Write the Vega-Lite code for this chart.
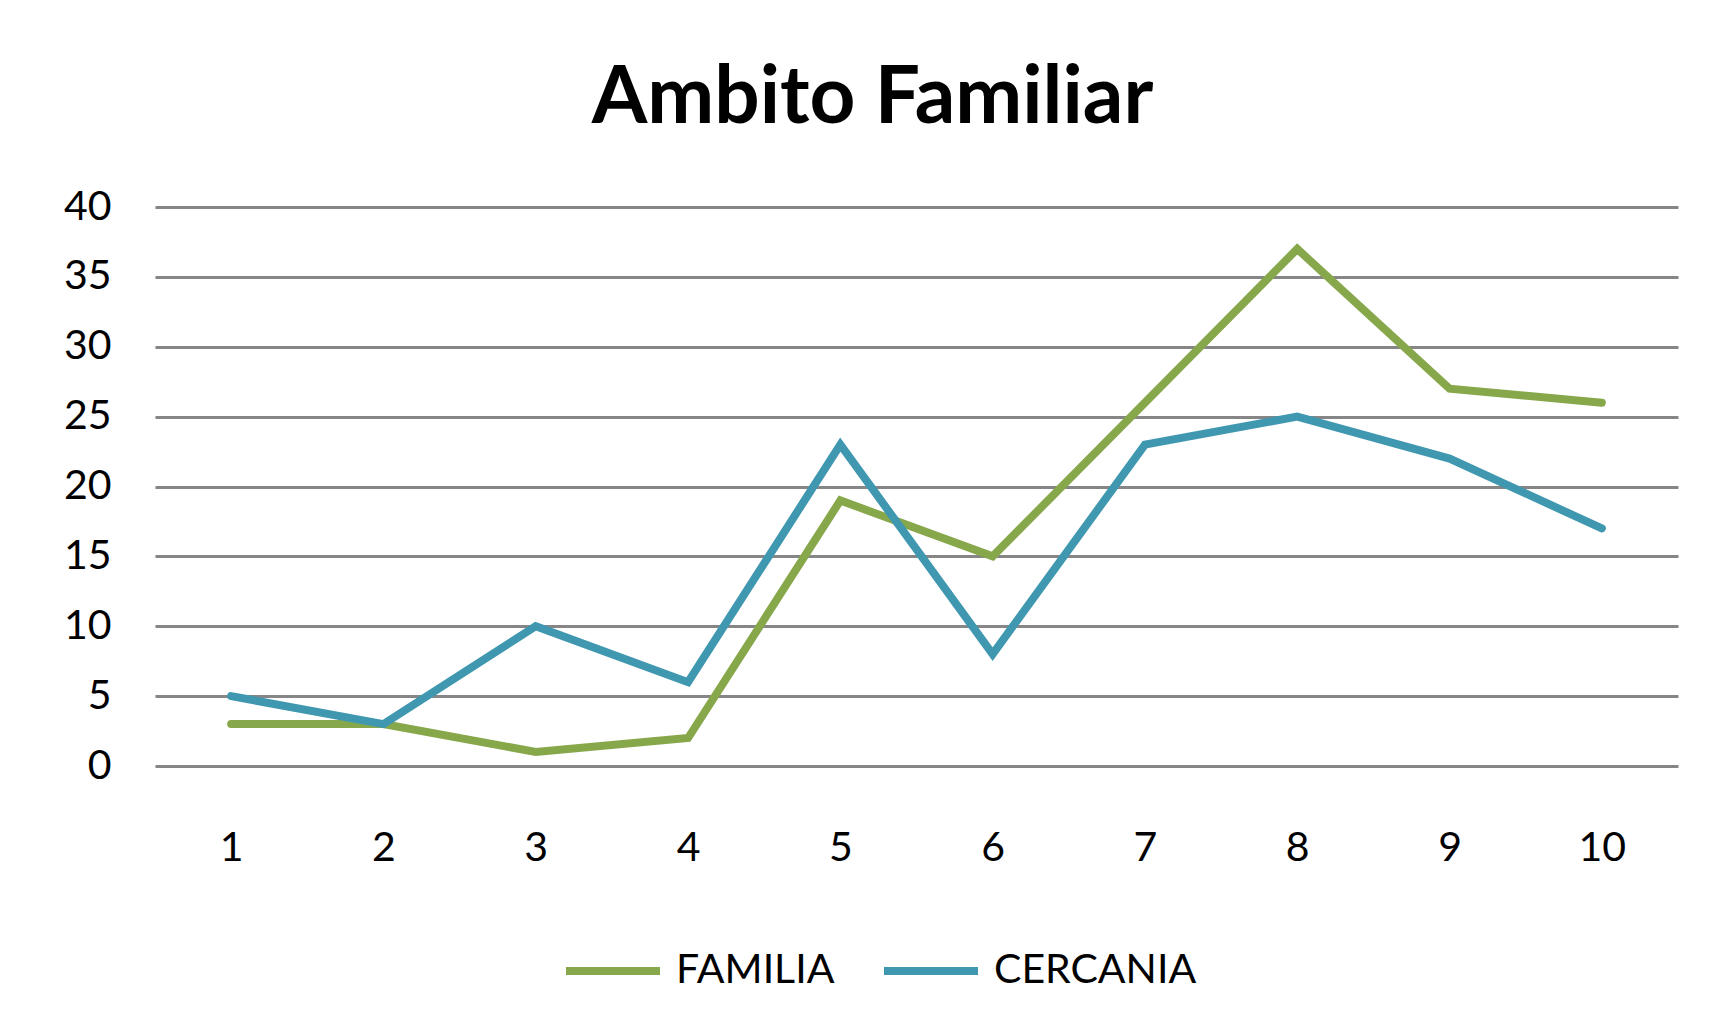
{
  "$schema": "https://vega.github.io/schema/vega-lite/v6.json",
  "autosize": {"type": "none"},
  "width": 1523,
  "height": 559,
  "padding": {"left": 155, "top": 207, "right": 44, "bottom": 268},
  "background": "white",
  "config": {
    "view": {"stroke": null},
    "font": "Lato",
    "axis": {"labelFont": "Lato", "labelColor": "black"},
    "legend": {"labelFont": "Lato", "labelColor": "black"}
  },
  "title": {
    "text": "Ambito Familiar",
    "font": "Lato",
    "fontSize": 80,
    "fontWeight": "bold",
    "color": "black",
    "anchor": "middle",
    "dx": -44,
    "dy": 98,
    "baseline": "alphabetic",
    "offset": 81
  },
  "data": {
    "values": [
      {"x": 1, "serie": "FAMILIA", "v": 3},
      {"x": 2, "serie": "FAMILIA", "v": 3},
      {"x": 3, "serie": "FAMILIA", "v": 1},
      {"x": 4, "serie": "FAMILIA", "v": 2},
      {"x": 5, "serie": "FAMILIA", "v": 19},
      {"x": 6, "serie": "FAMILIA", "v": 15},
      {"x": 7, "serie": "FAMILIA", "v": 26},
      {"x": 8, "serie": "FAMILIA", "v": 37},
      {"x": 9, "serie": "FAMILIA", "v": 27},
      {"x": 10, "serie": "FAMILIA", "v": 26},
      {"x": 1, "serie": "CERCANIA", "v": 5},
      {"x": 2, "serie": "CERCANIA", "v": 3},
      {"x": 3, "serie": "CERCANIA", "v": 10},
      {"x": 4, "serie": "CERCANIA", "v": 6},
      {"x": 5, "serie": "CERCANIA", "v": 23},
      {"x": 6, "serie": "CERCANIA", "v": 8},
      {"x": 7, "serie": "CERCANIA", "v": 23},
      {"x": 8, "serie": "CERCANIA", "v": 25},
      {"x": 9, "serie": "CERCANIA", "v": 22},
      {"x": 10, "serie": "CERCANIA", "v": 17}
    ]
  },
  "mark": {"type": "line", "strokeWidth": 8, "strokeCap": "round", "strokeJoin": "miter"},
  "encoding": {
    "x": {
      "field": "x",
      "type": "ordinal",
      "scale": {"type": "point", "padding": 0.5},
      "axis": {
        "title": null,
        "labelAngle": 0,
        "labelFontSize": 41,
        "labelPadding": 62,
        "labelBaseline": "top",
        "ticks": false,
        "tickSize": 0,
        "domain": false,
        "grid": false
      }
    },
    "y": {
      "field": "v",
      "type": "quantitative",
      "scale": {"domain": [0, 40], "nice": false},
      "axis": {
        "title": null,
        "values": [0, 5, 10, 15, 20, 25, 30, 35, 40],
        "labelFontSize": 41,
        "labelPadding": 44,
        "ticks": false,
        "tickSize": 0,
        "domain": false,
        "grid": true,
        "gridColor": "#868686",
        "gridWidth": 3,
        "gridOpacity": 1
      }
    },
    "color": {
      "field": "serie",
      "type": "nominal",
      "sort": ["FAMILIA", "CERCANIA"],
      "scale": {"domain": ["FAMILIA", "CERCANIA"], "range": ["#87a74b", "#3f97b0"]},
      "legend": {
        "title": null,
        "orient": "none",
        "direction": "horizontal",
        "legendX": 407,
        "legendY": 713,
        "symbolType": "stroke",
        "symbolSize": 8836,
        "symbolStrokeWidth": 8,
        "labelFontSize": 41,
        "labelOffset": 12,
        "labelLimit": 400,
        "columnPadding": 33
      }
    }
  }
}
